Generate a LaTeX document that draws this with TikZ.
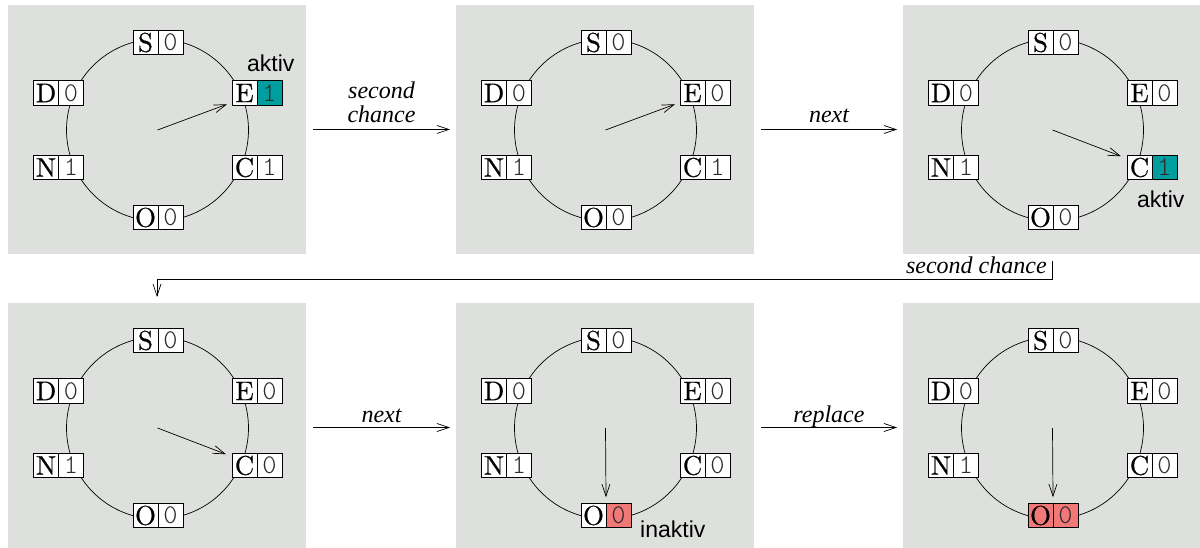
\documentclass[tikz,border=0pt]{standalone}
\usepackage{fontspec}
\usetikzlibrary{arrows.meta,calc}
\newfontfamily\labfont{Liberation Serif}
\newfontfamily\aktivfont{Liberation Sans}
\newfontfamily\digfont{lmmonolt10-regular.otf}
\newfontfamily\letfont[FakeBold=0.5]{lmroman10-regular.otf}
\definecolor{panelgray}{RGB}{221,224,220}
\definecolor{aktivc}{RGB}{0,158,158}
\definecolor{inaktivc}{RGB}{242,120,120}
\definecolor{digc}{RGB}{45,45,45}
\tikzset{
  panel/.style={fill=panelgray, draw=none, minimum width=298pt, minimum height=249pt, inner sep=0pt, outer sep=0pt, anchor=north west},
  letbox/.style={draw=black, line width=0.7pt, fill=white, minimum width=25pt, minimum height=24.5pt, inner sep=0pt, outer sep=0pt, font=\letfont\fontsize{27}{27}\selectfont},
  digbox/.style={letbox, font=\digfont\fontsize{27}{27}\selectfont, text=digc, anchor=west},
  ring/.style={line width=0.7pt},
  ptr/.style={line width=0.7pt, -{Straight Barb[length=12pt,width=8pt,line width=0.7pt]}},
  flow/.style={line width=0.7pt, -{Straight Barb[length=12pt,width=8pt,line width=0.7pt]}},
  lab/.style={font=\labfont\itshape\fontsize{24}{24}\selectfont},
  note/.style={font=\aktivfont\fontsize{23}{23}\selectfont, anchor=base west, inner sep=0pt},
  Sd/.style={}, Ed/.style={}, Cd/.style={}, Od/.style={}, Nd/.style={}, Dd/.style={}, Ol/.style={}
}
% #1 prefix, #2 S, #3 E, #4 C, #5 O, #6 N, #7 D
\newcommand\ringpanel[7]{%
  \node[panel] (#1) at (8,5) {};
  \draw[ring] (157.5,130) circle[radius=91pt];
  \coordinate (#1c) at (157.5,130);
  \node[letbox] (#1S) at (145.5,42.5) {S};
  \node[digbox,Sd] (#1Sd) at (#1S.east) {#2};
  \node[letbox] (#1E) at (244.5,93) {E};
  \node[digbox,Ed] (#1Ed) at (#1E.east) {#3};
  \node[letbox] (#1C) at (244.5,167.5) {C};
  \node[digbox,Cd] (#1Cd) at (#1C.east) {#4};
  \node[letbox,Ol] (#1O) at (145.5,217.5) {O};
  \node[digbox,Od] (#1Od) at (#1O.east) {#5};
  \node[letbox] (#1N) at (46,167.5) {N};
  \node[digbox,Nd] (#1Nd) at (#1N.east) {#6};
  \node[letbox] (#1D) at (46,93) {D};
  \node[digbox,Dd] (#1Dd) at (#1D.east) {#7};
}
\begin{document}
\begin{tikzpicture}[x=1pt,y=-1pt]
\useasboundingbox (0,0) rectangle (1200,548);
\begin{scope}
  \clip (0,0) rectangle (1200,548);
  % panel 1
  \begin{scope}[Ed/.style={fill=aktivc}]
    \ringpanel{pa}{0}{1}{1}{0}{1}{0}
    \draw[ptr] (pac) -- ([shift={(-5pt,1pt)}]paE.south west);
    \node[note] (na) at (247,72) {aktiv};
  \end{scope}
  % panel 2
  \begin{scope}[shift={(448,0)}]
    \ringpanel{pb}{0}{0}{1}{0}{1}{0}
    \draw[ptr] (pbc) -- ([shift={(-5pt,1pt)}]pbE.south west);
  \end{scope}
  % panel 3
  \begin{scope}[shift={(895,0)},Cd/.style={fill=aktivc}]
    \ringpanel{pc}{0}{0}{1}{0}{1}{0}
    \draw[ptr] (pcc) -- ([shift={(-6pt,-1pt)}]pcC.north west);
    \node[note] (nc) at (242,208) {aktiv};
  \end{scope}
  % panel 4
  \begin{scope}[shift={(0,298)}]
    \ringpanel{pd}{0}{0}{0}{0}{1}{0}
    \draw[ptr] (pdc) -- ([shift={(-6pt,-1pt)}]pdC.north west);
  \end{scope}
  % panel 5
  \begin{scope}[shift={(448,298)},Od/.style={fill=inaktivc}]
    \ringpanel{pe}{0}{0}{0}{0}{1}{0}
    \draw[ptr] (pec) -- ([yshift=6pt]peO.north east);
    \node[note] (ne) at (192,239) {inaktiv};
  \end{scope}
  % panel 6
  \begin{scope}[shift={(895,298)},Od/.style={fill=inaktivc},Ol/.style={fill=inaktivc}]
    \ringpanel{pf}{0}{0}{0}{0}{1}{0}
    \draw[ptr] (pfc) -- ([yshift=6pt]pfO.north east);
  \end{scope}
\end{scope}
% transitions
\draw[flow] ([xshift=7pt]pa.east) -- node[lab, midway, anchor=south, inner sep=0pt, yshift=6.5pt, align=center, text depth=0pt] {second\\chance} ([xshift=-6pt]pb.west);
\draw[flow] ([xshift=7pt]pb.east) -- node[lab, midway, anchor=south, inner sep=0pt, yshift=6.5pt, text depth=0pt] {next} ([xshift=-6pt]pc.west);
\draw[flow] ([yshift=-7pt]pc.south) node[lab, anchor=base east, inner sep=0pt, xshift=-5pt, yshift=-12pt] {second chance} -- ++(0,18) -| ([yshift=6pt]pd.north);
\draw[flow] ([xshift=7pt]pd.east) -- node[lab, midway, anchor=south, inner sep=0pt, yshift=5pt, text depth=0pt] {next} ([xshift=-6pt]pe.west);
\draw[flow] ([xshift=7pt]pe.east) -- node[lab, midway, anchor=south, inner sep=0pt, yshift=5pt, text depth=0pt] {replace} ([xshift=-6pt]pf.west);
\end{tikzpicture}
\end{document}
